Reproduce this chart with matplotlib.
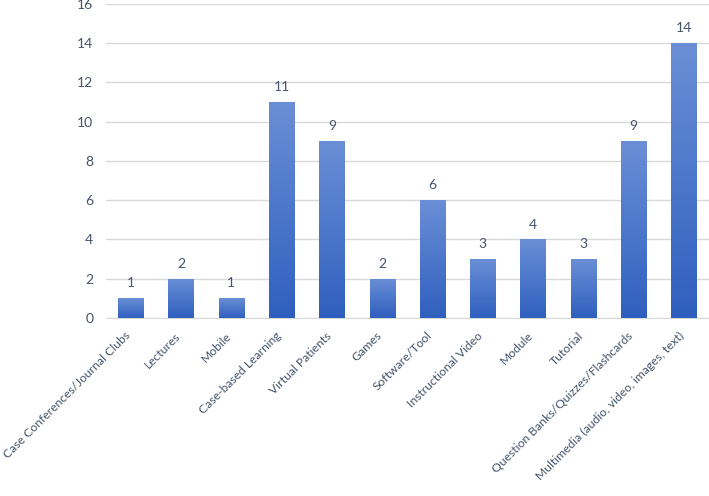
import numpy as np
import matplotlib.pyplot as plt
import matplotlib.transforms as mtransforms
from matplotlib.colors import LinearSegmentedColormap

categories = ["Case Conferences/Journal Clubs", "Lectures", "Mobile",
              "Case-based Learning", "Virtual Patients", "Games",
              "Software/Tool", "Instructional Video", "Module", "Tutorial",
              "Question Banks/Quizzes/Flashcards",
              "Multimedia (audio, video, images, text)"]
counts = [1, 2, 1, 11, 9, 2, 6, 3, 4, 3, 9, 14]

plt.rcParams['font.family'] = ['Lato', 'DejaVu Sans']
text_col = '#44546a'

fig = plt.figure(figsize=(7.09, 4.96), dpi=100)
ax = fig.add_axes([0.149, 0.359, 0.851, 0.633])

x = np.arange(len(categories))
bars = ax.bar(x, counts, width=0.5, color='none', edgecolor='none', zorder=3)

# vertical gradient: lighter at top, darker at bottom
cmap = LinearSegmentedColormap.from_list('bluegrad', ['#2f5fbe', '#6a8fd6'])
grad = np.linspace(0, 1, 256).reshape(-1, 1)
for b in bars:
    x0, y0 = b.get_x(), b.get_y()
    w, h = b.get_width(), b.get_height()
    im = ax.imshow(grad, cmap=cmap, origin='lower', aspect='auto',
                   extent=[x0, x0 + w, y0, y0 + h], zorder=3)
    im.set_clip_path(b)
    ax.text(x0 + w / 2, h + 0.45, str(int(h)), ha='center', va='bottom',
            fontsize=10, color=text_col)

ax.set_xlim(-0.5, len(categories) - 0.5)
ax.set_ylim(0, 16)
ax.set_yticks(range(0, 17, 2))
ax.set_xticks(x)
ax.set_xticklabels([])

# category labels, rotated, right end just under each bar
trans = mtransforms.blended_transform_factory(ax.transData, ax.transAxes)
trans = trans + mtransforms.ScaledTranslation(-0.02, -0.16, fig.dpi_scale_trans)
for xi, cat in zip(x, categories):
    ax.text(xi, 0, cat, transform=trans, rotation=45, ha='right', va='center',
            rotation_mode='anchor', fontsize=8.7, color=text_col)

ax.tick_params(axis='y', labelsize=10, labelcolor=text_col, length=0, pad=9)
ax.tick_params(axis='x', length=0)
ax.yaxis.grid(True, color='#d9d9d9', linewidth=1, zorder=0)
ax.set_axisbelow(True)
for s in ['top', 'right', 'left']:
    ax.spines[s].set_visible(False)
ax.spines['bottom'].set_color('#d9d9d9')

fig.savefig('out.png', dpi=100)
